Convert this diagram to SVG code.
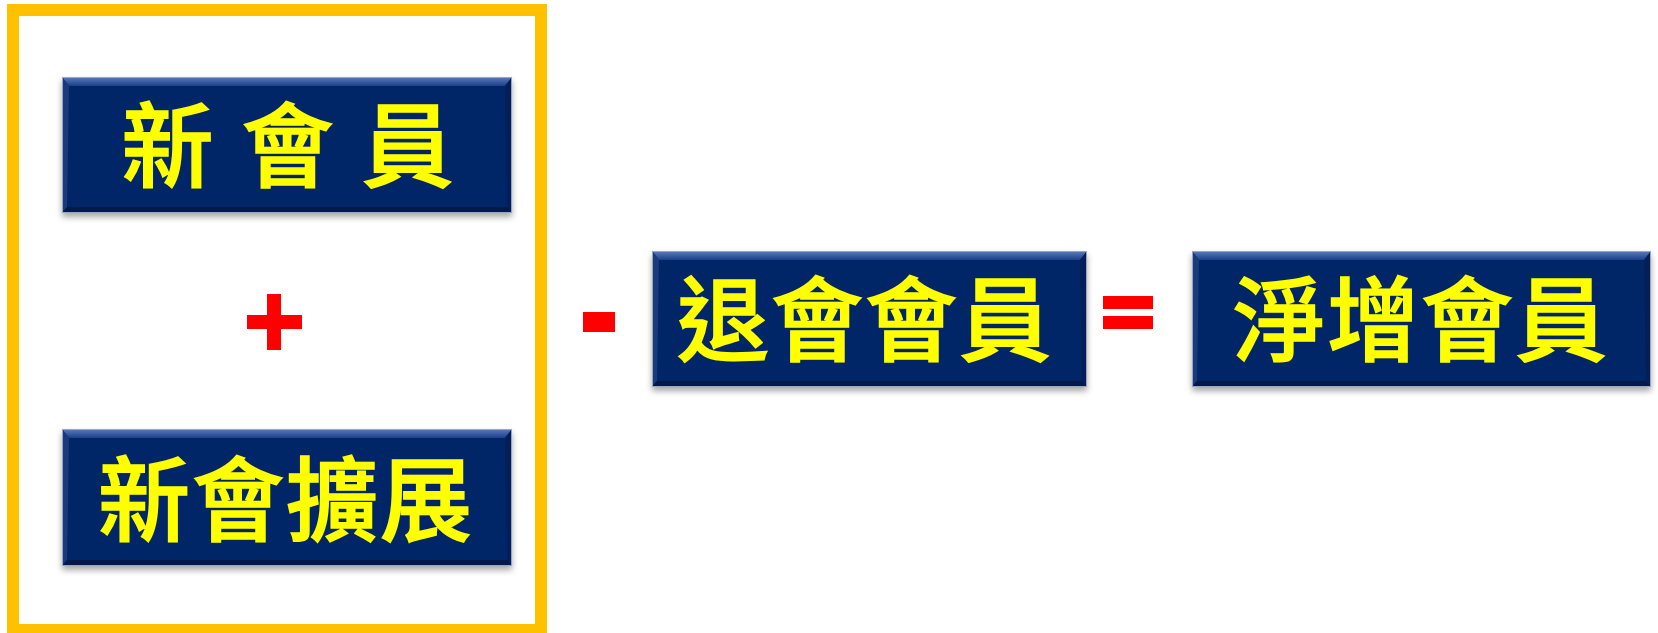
<svg xmlns="http://www.w3.org/2000/svg" width="1658" height="633" viewBox="0 0 1658 633">
  <style>
    .face{fill:#062668}
    .bt{fill:url(#gTop)}
    .bl{fill:#1A3A7C}
    .br{fill:#041E58}
    .bb{fill:#03194C}
    .edge{fill:none;stroke:#9AA6BE;stroke-width:1}
    .lbl{font-family:"Noto Sans CJK TC","Noto Sans CJK SC",sans-serif;font-weight:500;font-size:92px;fill:#FFFF00;stroke:#FFFF00;stroke-width:1.5}
    .op{fill:#FF0000}
  </style>
  <defs>
    <linearGradient id="gTop" x1="0" y1="0" x2="0" y2="1">
      <stop offset="0" stop-color="#5A7CC0"/>
      <stop offset="1" stop-color="#1D3F88"/>
    </linearGradient>
    <filter id="sh" x="-5%" y="-10%" width="110%" height="130%">
      <feDropShadow dx="0" dy="4" stdDeviation="3" flood-color="#000" flood-opacity="0.35"/>
    </filter>
  </defs>

  <rect x="13" y="10" width="528" height="620" fill="none" stroke="#FFC000" stroke-width="12"/>

  <g id="node-new-member">
    <rect class="face" x="62" y="77" width="450" height="136" filter="url(#sh)"/>
    <polygon class="bt" points="62,77 512,77 505,86 69,86"/>
    <polygon class="bl" points="62,77 69,86 67,207 62,213"/>
    <polygon class="br" points="512,77 512,213 507,207 505,86"/>
    <polygon class="bb" points="62,213 67,207 507,207 512,213"/>
    <rect class="edge" x="62.5" y="77.5" width="449" height="135"/>
    <text class="lbl" x="167.5 227.5 287.5 347.5 407.5" y="180" text-anchor="middle">新 會 員</text>
  </g>

  <g id="node-new-club">
    <rect class="face" x="62" y="429" width="450" height="137" filter="url(#sh)"/>
    <polygon class="bt" points="62,429 512,429 505,438 69,438"/>
    <polygon class="bl" points="62,429 69,438 67,560 62,566"/>
    <polygon class="br" points="512,429 512,566 507,560 505,438"/>
    <polygon class="bb" points="62,566 67,560 507,560 512,566"/>
    <rect class="edge" x="62.5" y="429.5" width="449" height="136"/>
    <text class="lbl" x="286" y="534" text-anchor="middle" letter-spacing="2">新會擴展</text>
  </g>

  <g id="node-quit-member">
    <rect class="face" x="652" y="251" width="435" height="136" filter="url(#sh)"/>
    <polygon class="bt" points="652,251 1087,251 1080,260 659,260"/>
    <polygon class="bl" points="652,251 659,260 657,381 652,387"/>
    <polygon class="br" points="1087,251 1087,387 1082,381 1080,260"/>
    <polygon class="bb" points="652,387 657,381 1082,381 1087,387"/>
    <rect class="edge" x="652.5" y="251.5" width="434" height="135"/>
    <text class="lbl" x="865" y="354" text-anchor="middle" letter-spacing="2">退會會員</text>
  </g>

  <g id="node-net-member">
    <rect class="face" x="1192" y="251" width="459" height="136" filter="url(#sh)"/>
    <polygon class="bt" points="1192,251 1651,251 1644,260 1199,260"/>
    <polygon class="bl" points="1192,251 1199,260 1197,381 1192,387"/>
    <polygon class="br" points="1651,251 1651,387 1646,381 1644,260"/>
    <polygon class="bb" points="1192,387 1197,381 1646,381 1651,387"/>
    <rect class="edge" x="1192.5" y="251.5" width="458" height="135"/>
    <text class="lbl" x="1421" y="354" text-anchor="middle" letter-spacing="2">淨增會員</text>
  </g>

  <g id="connectors">
    <rect class="op" x="267" y="294" width="14" height="56"/>
    <rect class="op" x="247" y="315" width="55" height="14"/>
    <rect class="op" x="583" y="312" width="32" height="20"/>
    <rect class="op" x="1103" y="296" width="50" height="13"/>
    <rect class="op" x="1103" y="316" width="50" height="13"/>
  </g>
</svg>
